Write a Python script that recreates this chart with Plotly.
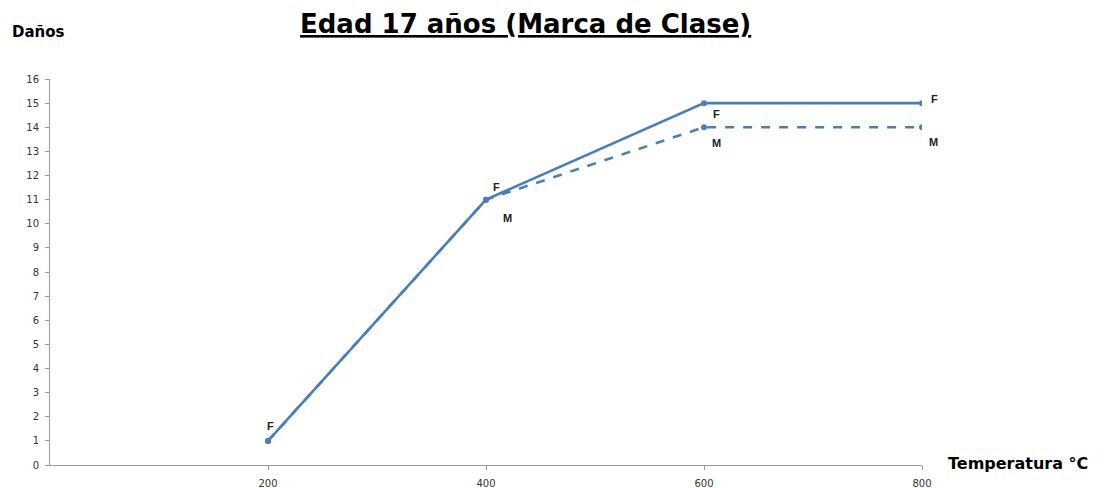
import plotly.graph_objects as go

temperatura = [200, 400, 600, 800]
danos_f = [1, 11, 15, 15]
danos_m = [1, 11, 14, 14]
y_ticks = list(range(0, 17))
x_ticks = [200, 400, 600, 800]

# labels: (x, y, text, xshift, yshift)
labels = [
    (200, 1, "F", 2, 15),
    (400, 11, "F", 10, 13),
    (400, 11, "M", 21, -18),
    (600, 15, "F", 12, -11),
    (600, 14, "M", 12, -16),
    (800, 15, "F", 12, 4),
    (800, 14, "M", 11, -15),
]

blue = "#4A7EBB"
fig = go.Figure()
fig.add_trace(go.Scatter(x=temperatura, y=danos_m, mode="lines+markers",
                         line=dict(color=blue, width=2.6, dash="dash"),
                         marker=dict(size=6, color=blue), name="M"))
fig.add_trace(go.Scatter(x=temperatura, y=danos_f, mode="lines+markers",
                         line=dict(color=blue, width=2.6),
                         marker=dict(size=6, color=blue), name="F"))

for x, y, t, xs, ys in labels:
    fig.add_annotation(x=x, y=y, text="<b>" + t + "</b>", showarrow=False,
                       xshift=xs, yshift=ys,
                       font=dict(family="Liberation Sans", size=11, color="#222222"))

fig.update_layout(
    width=1097, height=480,
    margin=dict(l=42, r=183, t=71, b=23),
    paper_bgcolor="white", plot_bgcolor="white",
    showlegend=False,
    xaxis=dict(range=[0, 800], tickvals=x_ticks, ticks="outside", ticklen=4,
               tickcolor="#999999", showline=True, linecolor="#999999", linewidth=1,
               showgrid=False, zeroline=False, automargin=False, ticklabelstandoff=5,
               tickfont=dict(family="DejaVu Sans", size=10, color="#333333")),
    yaxis=dict(range=[0, 16], tickvals=y_ticks, ticks="outside", ticklen=4,
               tickcolor="#999999", showline=True, linecolor="#999999", linewidth=1,
               showgrid=False, zeroline=False, automargin=False, ticklabelstandoff=4,
               tickfont=dict(family="DejaVu Sans", size=10, color="#333333")),
)

# title as paper annotation
fig.add_annotation(xref="paper", yref="paper", x=(525 - 50) / 872, y=1 + (79 - 24) / 386,
                   xanchor="center", yanchor="middle",
                   text="<b><u>Edad 17 años (Marca de Clase)</u></b>", showarrow=False,
                   font=dict(family="DejaVu Sans", size=26, color="black"))
fig.add_annotation(xref="paper", yref="paper", x=(10 - 50) / 872, y=1 + (79 - 32) / 386,
                   xanchor="left", yanchor="middle",
                   text="<b>Daños</b>", showarrow=False,
                   font=dict(family="DejaVu Sans", size=15, color="black"))
fig.add_annotation(xref="paper", yref="paper", x=(946 - 50) / 872, y=(465 - 463) / 386,
                   xanchor="left", yanchor="middle",
                   text="<b>Temperatura °C</b>", showarrow=False,
                   font=dict(family="DejaVu Sans", size=16, color="black"))

fig.write_html("out.html")
